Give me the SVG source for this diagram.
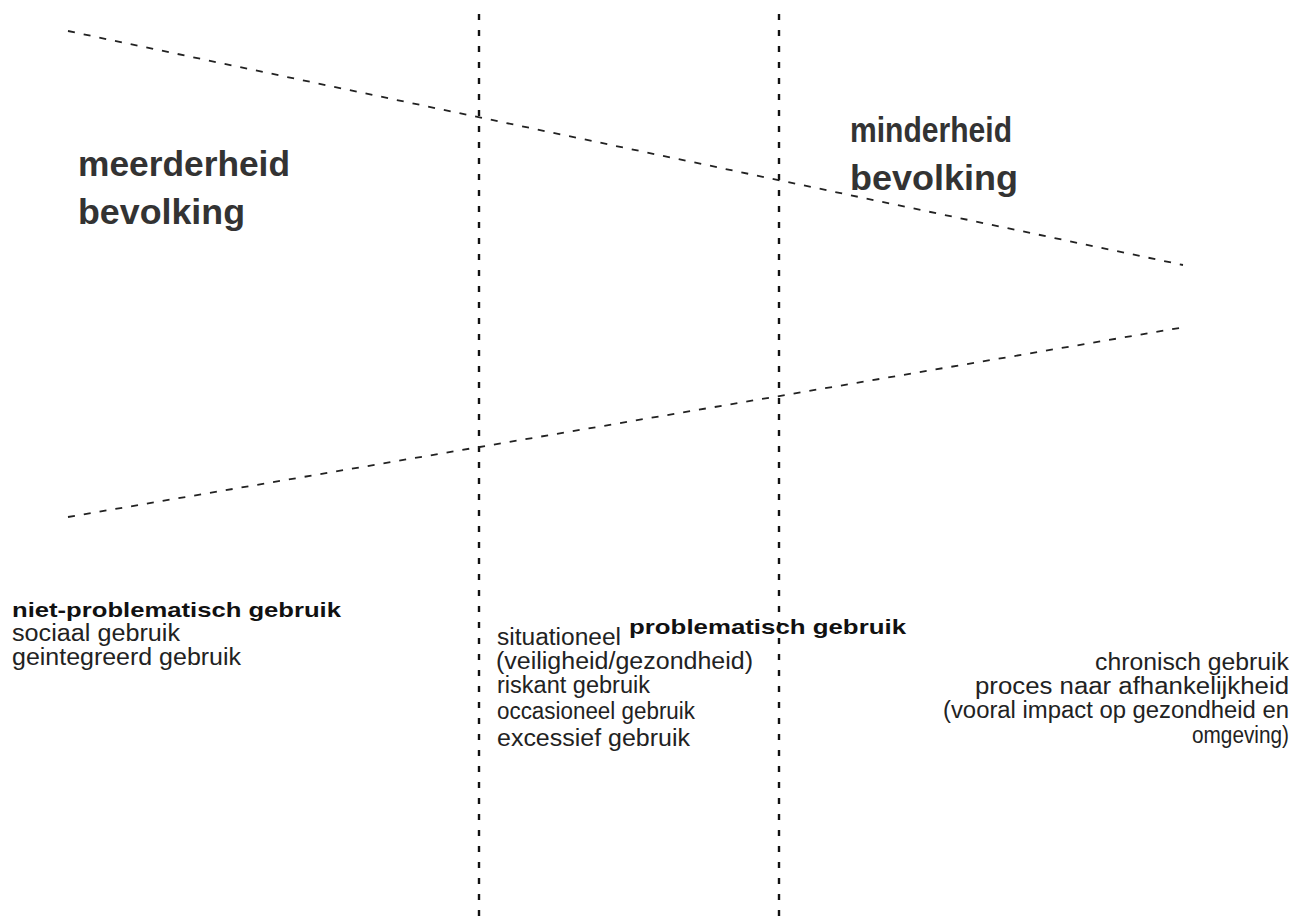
<svg xmlns="http://www.w3.org/2000/svg" width="1298" height="923" viewBox="0 0 1298 923">
<style>
.big{font-family:"Liberation Sans",Arial,sans-serif;font-weight:bold;font-size:35px;fill:#333}
.hd{font-family:"Liberation Sans",Arial,sans-serif;font-weight:bold;font-size:21px;fill:#111}
.tx{font-family:"Liberation Sans",Arial,sans-serif;font-size:23px;fill:#222}
.vl{stroke:#111;stroke-width:2.4;stroke-dasharray:6 10;fill:none}
.ol{stroke:#222;stroke-width:1.8;stroke-dasharray:7 9;fill:none}
</style>
<rect width="1298" height="923" fill="#fff"/>
<g id="connectors">
<line class="vl" x1="479" y1="14" x2="479" y2="923"/>
<line class="vl" x1="779" y1="14" x2="779" y2="923"/>
<line class="ol" x1="68" y1="31" x2="1183" y2="265"/>
<line class="ol" x1="68" y1="517" x2="1185" y2="327"/>
</g>
<g id="meerderheid">
<text class="big" x="78" y="176" textLength="212" lengthAdjust="spacingAndGlyphs">meerderheid</text>
<text class="big" x="78" y="224" textLength="167" lengthAdjust="spacingAndGlyphs">bevolking</text>
</g>
<g id="minderheid">
<text class="big" x="850" y="142" textLength="162" lengthAdjust="spacingAndGlyphs">minderheid</text>
<text class="big" x="850" y="190" textLength="168" lengthAdjust="spacingAndGlyphs">bevolking</text>
</g>
<g id="niet-problematisch">
<text class="hd" x="12" y="617" textLength="329" lengthAdjust="spacingAndGlyphs">niet-problematisch gebruik</text>
<text class="tx" x="12" y="641" textLength="168" lengthAdjust="spacingAndGlyphs">sociaal gebruik</text>
<text class="tx" x="12" y="665" textLength="229" lengthAdjust="spacingAndGlyphs">geintegreerd gebruik</text>
</g>
<g id="problematisch">
<text class="hd" x="629" y="634" textLength="277" lengthAdjust="spacingAndGlyphs">problematisch gebruik</text>
<text class="tx" x="497" y="645" textLength="124" lengthAdjust="spacingAndGlyphs">situationeel</text>
<text class="tx" x="496" y="669" textLength="257" lengthAdjust="spacingAndGlyphs">(veiligheid/gezondheid)</text>
<text class="tx" x="497" y="693" textLength="153" lengthAdjust="spacingAndGlyphs">riskant gebruik</text>
<text class="tx" x="497" y="719" textLength="198" lengthAdjust="spacingAndGlyphs">occasioneel gebruik</text>
<text class="tx" x="497" y="746" textLength="193" lengthAdjust="spacingAndGlyphs">excessief gebruik</text>
</g>
<g id="chronisch">
<text class="tx" x="1095" y="670" textLength="194" lengthAdjust="spacingAndGlyphs">chronisch gebruik</text>
<text class="tx" x="975" y="694" textLength="314" lengthAdjust="spacingAndGlyphs">proces naar afhankelijkheid</text>
<text class="tx" x="943" y="718" textLength="346" lengthAdjust="spacingAndGlyphs">(vooral impact op gezondheid en</text>
<text class="tx" x="1192" y="743" textLength="97" lengthAdjust="spacingAndGlyphs">omgeving)</text>
</g>
</svg>
